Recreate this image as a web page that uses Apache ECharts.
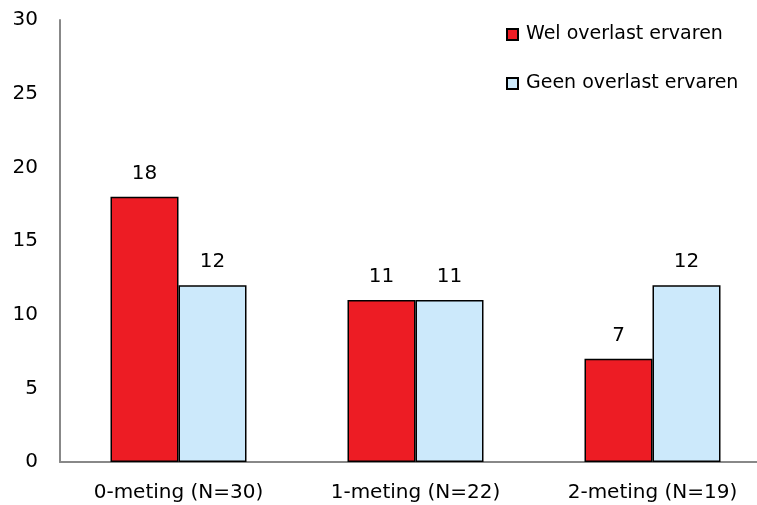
<!DOCTYPE html>
<html>
<head>
<meta charset="utf-8">
<script src="https://cdn.jsdelivr.net/npm/echarts@6/dist/echarts.min.js"></script>
<style>
  html, body { margin: 0; padding: 0; background: #fff; }
  #chart { width: 757px; height: 505px; }
</style>
</head>
<body>
<div id="chart"></div>
<script>
const categories = ['0-meting (N=30)', '1-meting (N=22)', '2-meting (N=19)']
const welOverlast = [18, 11, 7]
const geenOverlast = [12, 11, 12]
const seriesNames = ['Wel overlast ervaren', 'Geen overlast ervaren']

const font = 'DejaVu Sans'
const chart = echarts.init(document.getElementById('chart'))

const label = {
  show: true,
  position: 'top',
  distance: 13,
  color: '#000',
  fontSize: 20,
  fontFamily: font
}

chart.setOption({
  animation: false,
  textStyle: { fontFamily: font },
  legend: {
    orient: 'vertical',
    left: 501,
    top: 20,
    itemGap: 30,
    itemWidth: 11,
    itemHeight: 11,
    icon: 'rect',
    textStyle: { fontSize: 19, color: '#000', fontFamily: font, padding: [0, 0, 0, 3] },
    data: seriesNames
  },
  grid: {
    left: 60,
    top: 20,
    right: -14,
    bottom: 43,
    outerBoundsMode: 'none'
  },
  xAxis: {
    type: 'category',
    data: categories,
    axisLine: { lineStyle: { color: '#888', width: 2 } },
    axisTick: { show: false },
    axisLabel: { color: '#000', fontSize: 20, margin: 21, fontFamily: font }
  },
  yAxis: {
    type: 'value',
    min: 0,
    max: 30,
    interval: 5,
    axisLine: { show: true, lineStyle: { color: '#888', width: 2 } },
    axisTick: { show: false },
    splitLine: { show: false },
    axisLabel: { color: '#000', fontSize: 20, margin: 22, fontFamily: font }
  },
  series: [
    {
      name: seriesNames[0],
      type: 'bar',
      data: welOverlast,
      barWidth: 68,
      barGap: '0%',
      itemStyle: { color: '#ED1C24', borderColor: '#000', borderWidth: 1.5 },
      label
    },
    {
      name: seriesNames[1],
      type: 'bar',
      data: geenOverlast,
      barWidth: 68,
      itemStyle: { color: '#CCE9FB', borderColor: '#000', borderWidth: 1.5 },
      label
    }
  ]
})
</script>
</body>
</html>
